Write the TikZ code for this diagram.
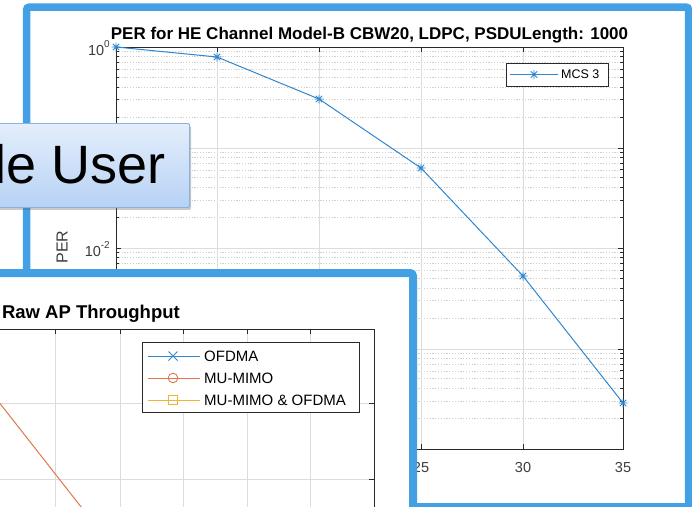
\documentclass[tikz,border=0pt]{standalone}
\usepackage{fontspec}
\setmainfont{Liberation Sans}
\usetikzlibrary{shadows}
\definecolor{frameblue}{HTML}{43A0E5}
\definecolor{mblue}{HTML}{2F87D0}
\definecolor{morange}{HTML}{E2784A}
\definecolor{myellow}{HTML}{EDB532}
\definecolor{axcol}{HTML}{2A2A2A}
\definecolor{labcol}{HTML}{3C3C3C}
\definecolor{gridcol}{HTML}{DCDCDC}
\definecolor{mgridcol}{HTML}{D0D0D0}
\definecolor{boxtop}{HTML}{E4EEFC}
\definecolor{boxbot}{HTML}{B7D2F4}
\definecolor{boxline}{HTML}{8DB1DD}
\newcommand\tenpow[1]{10\raisebox{0.5em}{\fontsize{10}{10}\selectfont #1}}
\tikzset{
  starm/.pic={\draw[mblue, line width=0.9pt] (-4.5,0)--(4.5,0) (0,-4.5)--(0,4.5) (-3.2,-3.2)--(3.2,3.2) (-3.2,3.2)--(3.2,-3.2);},
  crossm/.pic={\draw[mblue, line width=0.9pt] (-4.5,-4.5)--(4.5,4.5) (-4.5,4.5)--(4.5,-4.5);},
  circm/.pic={\draw[morange, line width=0.9pt] (0,0) circle[radius=4.8pt];},
  squarem/.pic={\draw[myellow, line width=0.9pt] (-4.5,-4.5) rectangle (4.5,4.5);}
}
\begin{document}
\begin{tikzpicture}[x=1pt,y=-1pt,
  frame/.style={draw=frameblue, line width=7.5pt, fill=white, rounded corners=3pt},
  majgrid/.style={draw=gridcol, line width=0.7pt},
  mingrid/.style={draw=mgridcol, line width=0.6pt, dash pattern=on 1.2pt off 1.6pt},
  axline/.style={draw=axcol, line width=0.9pt},
  ticklab/.style={text=labcol, inner sep=0pt, font=\fontsize{14.5}{16}\selectfont},
  legbox/.style={draw=axcol, line width=0.8pt, fill=white},
  legtext/.style={inner sep=0pt, anchor=west, text=black},
  ptitle/.style={inner sep=0pt, text=black, font=\bfseries\fontsize{17}{20}\selectfont},
  ubox/.style={draw=boxline, line width=0.8pt, top color=boxtop, bottom color=boxbot,
    rounded corners=1.5pt, inner sep=0pt,
    drop shadow={shadow xshift=1.5pt, shadow yshift=-2.5pt, opacity=0.35, fill=black!60}}
]
\useasboundingbox (0,0) rectangle (692,506);
\clip (0,0) rectangle (692,506);
\fill[white] (0,0) rectangle (692,506);

% ---------- top-right panel ----------
\path[frame] (26.5,7) rectangle (688.7,506.8);
\foreach \k in {1,...,4}{\foreach \m in {2,...,9}{
  \pgfmathsetmacro\yy{47+(\k-log10(\m))*100.5}
  \draw[mingrid] (116,\yy) -- (623,\yy);
  \draw[axline] (116,\yy) -- (119,\yy) (623,\yy) -- (620,\yy);
}}
\foreach \yy in {148,248.5,349} \draw[majgrid] (116,\yy) -- (623,\yy);
\foreach \xx in {217,319,421,523} \draw[majgrid] (\xx,47) -- (\xx,449);
\draw[axline] (116,47) rectangle (623,449);
\foreach \yy in {47,148,248.5,349,449} \draw[axline] (116,\yy) -- (121,\yy) (623,\yy) -- (618,\yy);
\foreach \xx in {217,319,421,523} \draw[axline] (\xx,47) -- (\xx,52) (\xx,449) -- (\xx,444);

\node[ticklab, anchor=east] (y0) at (110,48) {\tenpow{0}};
\node[ticklab, anchor=east] (y2) at (110,249) {\tenpow{-2}};
\node[ticklab] (x25) at (421,467) {25};
\node[ticklab] (x30) at (523,467) {30};
\node[ticklab] (x35) at (623,467) {35};
\node[ticklab, rotate=90, font=\fontsize{16}{18}\selectfont] (ylab) at (62,247) {PER};

\draw[mblue, line width=1pt] (116,47) -- (217,57) -- (319,99) -- (421,168) -- (523,276) -- (623,403);
\foreach \p in {(116,47),(217,57),(319,99),(421,168),(523,276),(623,403)} \pic at \p {starm};

\draw[legbox] (506,63) rectangle (608,86);
\draw[mblue, line width=1pt] (510,74.5) -- (558,74.5);
\pic at (534,74.5) {starm};
\node[legtext, font=\fontsize{12.5}{14}\selectfont] (lmcs) at (561,74.5) {MCS 3};

\node[ptitle, anchor=base] (t1) at (369.5,39) {PER for HE Channel Model-B CBW20, LDPC, PSDULength: 1000};

% ---------- bottom-left panel ----------
\path[frame, line width=8pt] (-20,273) rectangle (413,530);
\foreach \xx in {55,120,183,247,310} \draw[majgrid] (\xx,329) -- (\xx,510);
\foreach \yy in {403,479} \draw[majgrid] (-10,\yy) -- (374,\yy);
\draw[axline] (-10,329) -- (374,329) -- (374,510);
\foreach \xx in {55,120,183,247,310} \draw[axline] (\xx,329) -- (\xx,334);
\foreach \yy in {403,479} \draw[axline] (374,\yy) -- (369,\yy);
\draw[morange, line width=1pt] (-5,397.1) -- (90,518.3);

\node[ptitle, anchor=base east, font=\bfseries\fontsize{18.5}{21}\selectfont] (t2) at (180,318) {Raw AP Throughput};

\draw[legbox] (142,342) rectangle (359,412);
\draw[mblue, line width=1pt] (148,356) -- (200,356);
\pic at (173,356) {crossm};
\draw[morange, line width=1pt] (148,378) -- (200,378);
\pic at (173,378) {circm};
\draw[myellow, line width=1pt] (148,400) -- (200,400);
\pic at (173,400) {squarem};
\node[legtext, font=\fontsize{15}{17}\selectfont] (l1) at (204,356) {OFDMA};
\node[legtext, font=\fontsize{15}{17}\selectfont] (l2) at (204,378) {MU-MIMO};
\node[legtext, font=\fontsize{15}{17}\selectfont] (l3) at (204,400) {MU-MIMO \& OFDMA};

% ---------- callout ----------
\node[ubox, minimum width=200pt, minimum height=84pt, anchor=north east] (uboxn) at (190,123) {};
\node[inner sep=0pt, anchor=base east, font=\fontsize{54}{60}\selectfont] (utext) at (166,183) {le User};
\end{tikzpicture}
\end{document}
